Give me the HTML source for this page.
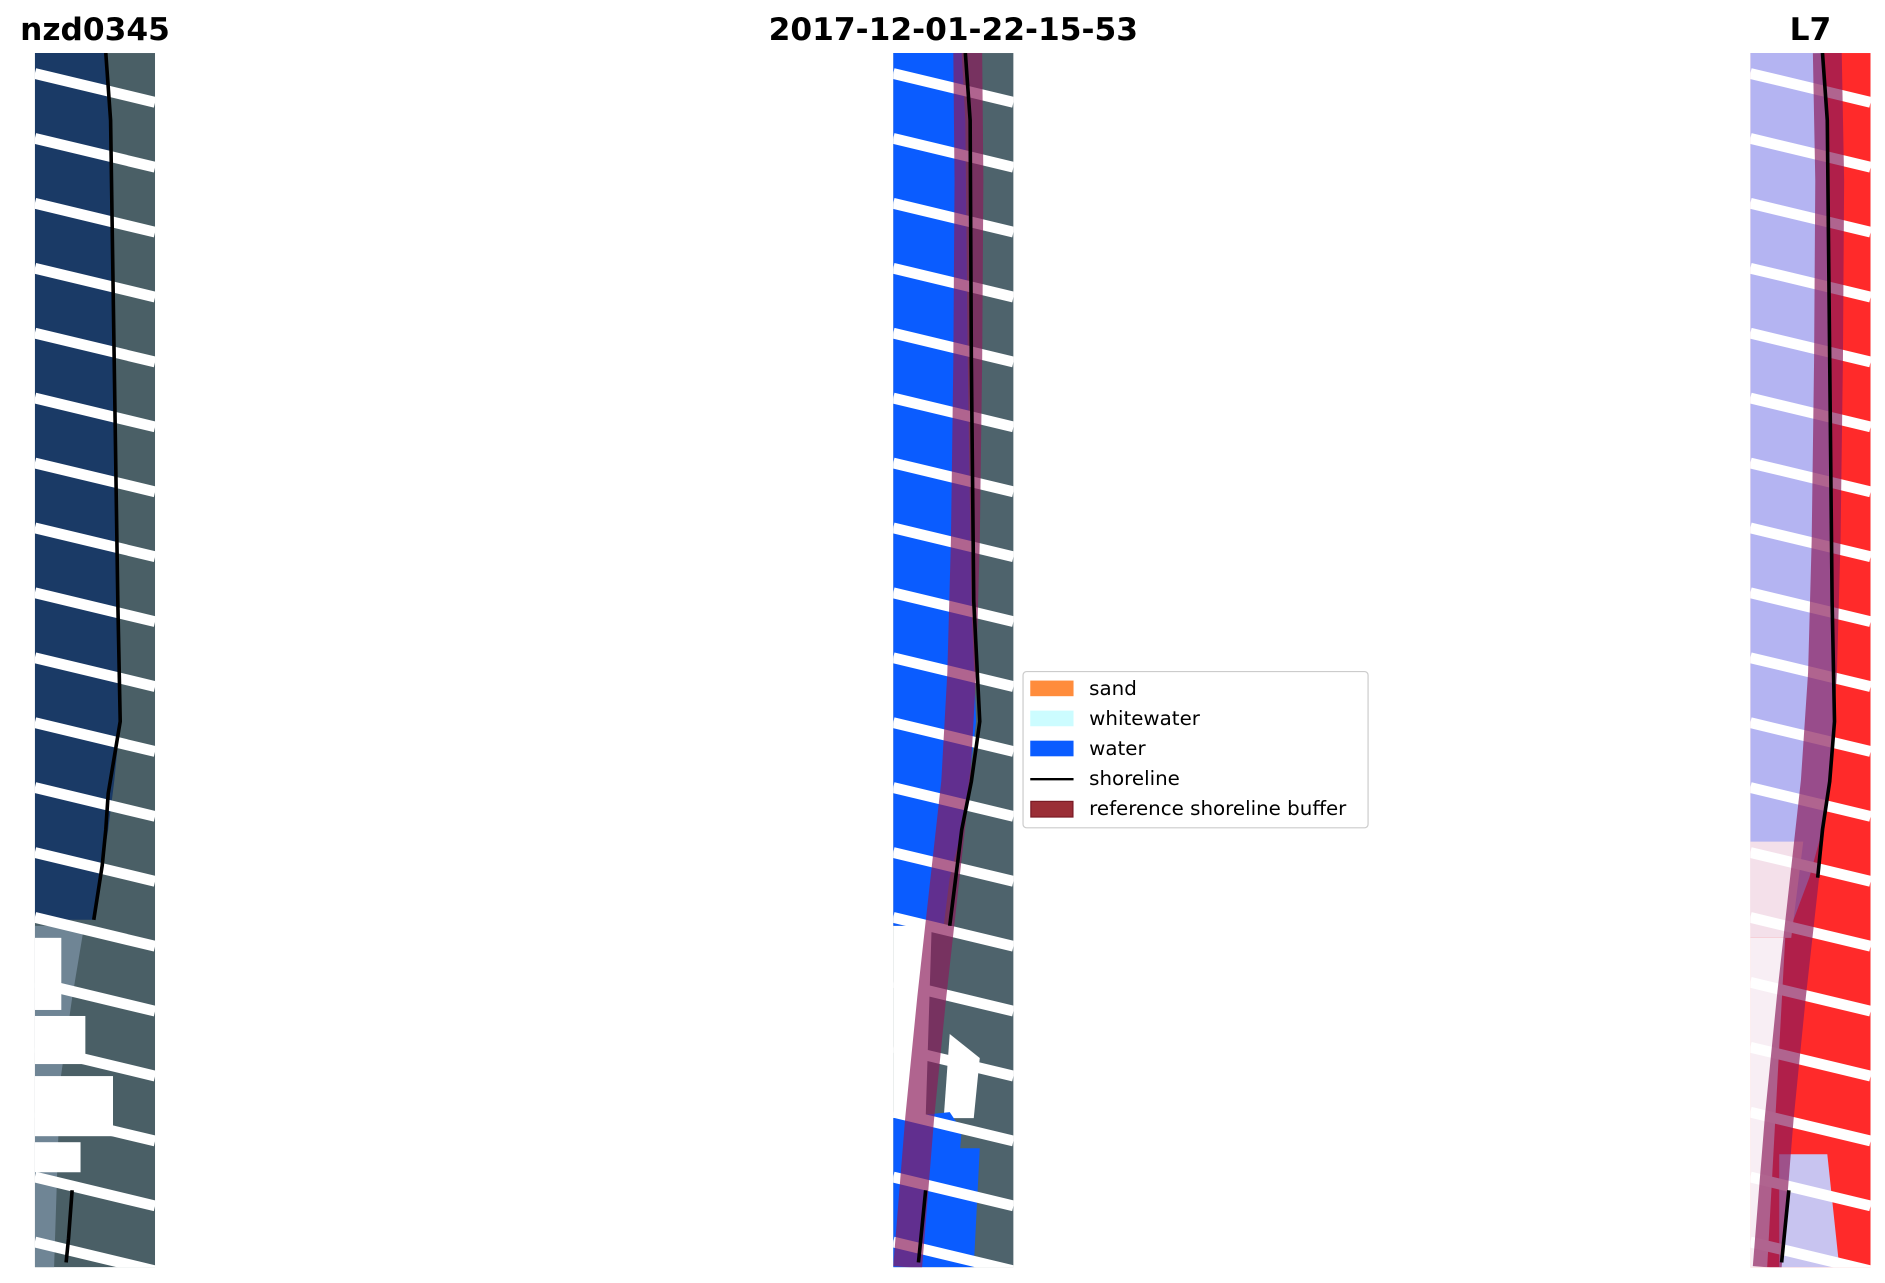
<!DOCTYPE html>
<html><head><meta charset="utf-8"><style>
html,body{margin:0;padding:0;background:#fff;width:1885px;height:1283px;overflow:hidden}
</style></head><body>
<svg width="1885" height="1283" viewBox="0 0 1568 1067" xmlns="http://www.w3.org/2000/svg">
<defs>
<clipPath id="c1"><rect x="29" y="44" width="100" height="1010"/></clipPath>
<clipPath id="c2"><rect x="743" y="44" width="100" height="1010"/></clipPath>
<clipPath id="c3"><rect x="1456" y="44" width="100" height="1010"/></clipPath>
<g id="stripes">
<g stroke="#fff" stroke-width="9">
<line x1="0" y1="61" x2="100" y2="85"/><line x1="0" y1="115" x2="100" y2="139"/>
<line x1="0" y1="169" x2="100" y2="193"/><line x1="0" y1="223" x2="100" y2="247"/>
<line x1="0" y1="277" x2="100" y2="301"/><line x1="0" y1="331" x2="100" y2="355"/>
<line x1="0" y1="385" x2="100" y2="409"/><line x1="0" y1="439" x2="100" y2="463"/>
<line x1="0" y1="493" x2="100" y2="517"/><line x1="0" y1="547" x2="100" y2="571"/>
<line x1="0" y1="601" x2="100" y2="625"/><line x1="0" y1="655" x2="100" y2="679"/>
<line x1="0" y1="709" x2="100" y2="733"/><line x1="0" y1="763" x2="100" y2="787"/>
<line x1="0" y1="817" x2="100" y2="841"/><line x1="0" y1="871" x2="100" y2="895"/>
<line x1="0" y1="925" x2="100" y2="949"/><line x1="0" y1="979" x2="100" y2="1003"/>
<line x1="0" y1="1033" x2="100" y2="1057"/>
</g></g>
</defs>

<!-- Panel 1 -->
<g clip-path="url(#c1)">
<rect x="29" y="44" width="100" height="1010" fill="#4a5f66"/>
<path d="M29,44 L88,44 L92,100 L95,300 L98,500 L100,600 L95,650 L90,690 L85,720 L78,765 L29,765 Z" fill="#1a3a66"/>
<path d="M29,770 L70,770 L60,830 L50,900 L45,1054 L29,1054 Z" fill="#6f8595"/>
<rect x="29" y="780" width="22" height="60" fill="#fff"/>
<rect x="29" y="845" width="42" height="40" fill="#fff"/>
<rect x="29" y="895" width="65" height="50" fill="#fff"/>
<rect x="29" y="950" width="38" height="25" fill="#fff"/>
<g transform="translate(29,0)"><use href="#stripes"/></g>
<path d="M88,44 L92,100 L95,300 L98,500 L100,600 L95,630 L90,660 L88,690 L85,720 L78,765" fill="none" stroke="#000" stroke-width="3"/>
<path d="M60,990 L57,1030 L55,1050" fill="none" stroke="#000" stroke-width="3"/>
</g>

<!-- Panel 2 -->
<g clip-path="url(#c2)">
<rect x="743" y="44" width="100" height="1010" fill="#4e636c"/>
<path d="M743,44 L800,44 L803,100 L805,300 L808,500 L812,600 L806,650 L800,690 L790,730 L785,770 L743,770 Z" fill="#0a5cff"/>
<path d="M743,770 L775,770 L770,930 L743,930 Z" fill="#fff"/>
<path d="M790,860 L815,880 L810,930 L785,930 Z" fill="#fff"/>
<path d="M743,930 L790,925 L800,940 L790,1054 L743,1054 Z" fill="#0a5cff"/>
<path d="M790,955 L815,955 L810,1054 L790,1054 Z" fill="#0a5cff"/>
<g transform="translate(743,0)"><use href="#stripes"/></g>
<path d="M805,44 L806,150 L805,300 L803,450 L800,560 L795,650 L785,740 L775,830 L765,930 L755,1054" fill="none" stroke="#8a1a5a" stroke-opacity="0.68" stroke-width="24"/>
<path d="M803,44 L807,100 L808,300 L810,500 L815,600 L808,650 L800,690 L795,730 L790,770" fill="none" stroke="#000" stroke-width="3"/>
<path d="M770,990 L766,1030 L764,1050" fill="none" stroke="#000" stroke-width="3"/>
</g>

<!-- Panel 3 -->
<g clip-path="url(#c3)">
<rect x="1456" y="44" width="100" height="1010" fill="#ff2a2a"/>
<path d="M1456,44 L1516,44 L1520,100 L1522,300 L1524,500 L1526,600 L1522,650 L1516,690 L1505,730 L1490,770 L1456,770 Z" fill="#b4b4f2"/>
<path d="M1456,700 L1500,700 L1490,780 L1456,780 Z" fill="#f4e0ea"/>
<path d="M1456,780 L1485,780 L1470,1054 L1456,1054 Z" fill="#f8eef4"/>
<path d="M1480,960 L1520,960 L1530,1054 L1480,1054 Z" fill="#c8c4f0"/>
<g transform="translate(1456,0)"><use href="#stripes"/></g>
<path d="M1520,44 L1522,150 L1521,300 L1519,450 L1516,560 L1510,650 L1500,740 L1490,830 L1480,930 L1470,1054" fill="none" stroke="#8a1a5a" stroke-opacity="0.68" stroke-width="24"/>
<path d="M1516,44 L1520,100 L1522,300 L1524,500 L1526,600 L1522,650 L1516,690 L1512,730" fill="none" stroke="#000" stroke-width="3"/>
<path d="M1488,990 L1484,1030 L1482,1050" fill="none" stroke="#000" stroke-width="3"/>
</g>

<!-- Titles -->
<g font-family="DejaVu Sans, sans-serif" font-weight="bold" font-size="26" text-anchor="middle" fill="#000">
<text x="79" y="33">nzd0345</text>
<text x="793" y="33">2017-12-01-22-15-53</text>
<text x="1506" y="33">L7</text>
</g>

<!-- Legend -->
<rect x="851" y="558.5" width="287" height="130" rx="3" fill="#fff" fill-opacity="0.85" stroke="#ccc" stroke-width="1"/>
<rect x="857" y="566" width="36" height="13" fill="#ff8c3c"/>
<rect x="857" y="591" width="36" height="13" fill="#ccfcff"/>
<rect x="857" y="616" width="36" height="13" fill="#0a5cff"/>
<line x1="857" y1="648" x2="893" y2="648" stroke="#000" stroke-width="2"/>
<rect x="857.5" y="666.5" width="35" height="13" fill="#9a2e36" stroke="#7a1a24" stroke-width="1"/>
<g font-family="DejaVu Sans, sans-serif" font-size="16.5" fill="#000">
<text x="906" y="578">sand</text>
<text x="906" y="603">whitewater</text>
<text x="906" y="628">water</text>
<text x="906" y="653">shoreline</text>
<text x="906" y="678">reference shoreline buffer</text>
</g>
</svg>
</body></html>
